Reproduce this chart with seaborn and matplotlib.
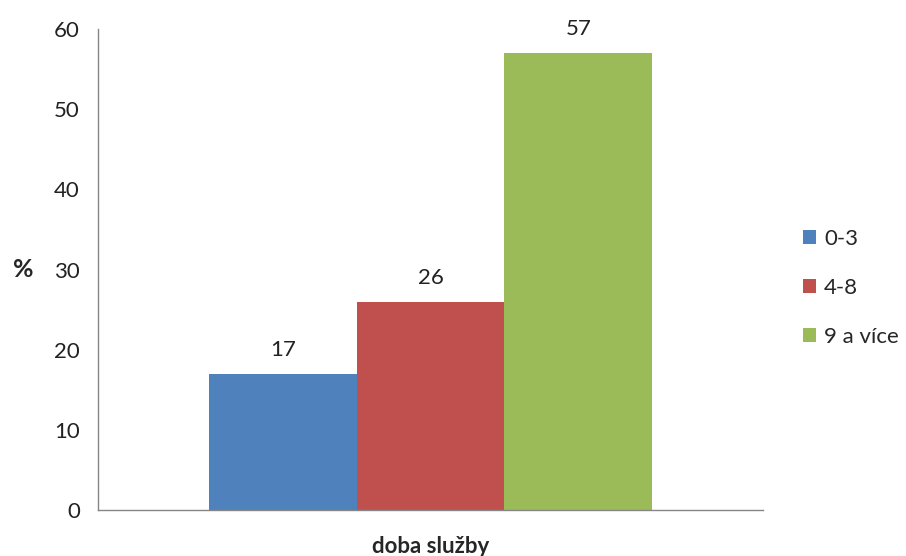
import matplotlib
matplotlib.use("Agg")
import matplotlib.pyplot as plt
import seaborn as sns
import pandas as pd

# data
skupiny = ["0-3", "4-8", "9 a více"]
hodnoty = [17, 26, 57]
kategorie = "doba služby"
barvy = ["#4F81BD", "#C0504D", "#9BBB59"]

sns.set_style("white")
plt.rcParams['font.family'] = ['Lato', 'DejaVu Sans']

df = pd.DataFrame({"kategorie": [kategorie] * len(skupiny),
                   "skupina": skupiny,
                   "hodnota": hodnoty})

fig = plt.figure(figsize=(9.06, 5.56), dpi=100)
ax = fig.add_axes([98 / 906, 46 / 556, 665 / 906, 481 / 556])

sns.barplot(data=df, x="kategorie", y="hodnota", hue="skupina",
            palette=barvy, width=0.667, saturation=1, ax=ax,
            edgecolor="none", linewidth=0)

for cont in ax.containers:
    ax.bar_label(cont, fmt="%d", padding=10, fontsize=16, color="#222222")

ax.set_xlim(-0.5, 0.5)
ax.set_ylim(0, 60)
ax.set_yticks(range(0, 61, 10))
ax.set_xticks([-0.5, 0.5])
ax.set_xticklabels(["", ""])
ax.tick_params(axis="x", length=8, color="#868686", width=1, direction="out")
ax.tick_params(axis="y", length=6, color="#868686", width=1, direction="out",
               labelsize=16, labelcolor="#222222", pad=7)

for s in ["top", "right"]:
    ax.spines[s].set_visible(False)
for s in ["left", "bottom"]:
    ax.spines[s].set_color("#868686")
    ax.spines[s].set_linewidth(1)

ax.set_xlabel(kategorie, fontsize=16, fontweight="bold", labelpad=7)
ax.set_ylabel("%", fontsize=18, fontweight="bold", rotation=0, labelpad=22,
              va="center")

ax.legend(loc="center left", bbox_to_anchor=(1.03, 0.4615), frameon=False,
          fontsize=16, handlelength=0.6, handleheight=0.6, handletextpad=0.35,
          labelspacing=1.3)

fig.savefig("out.png", dpi=100)
